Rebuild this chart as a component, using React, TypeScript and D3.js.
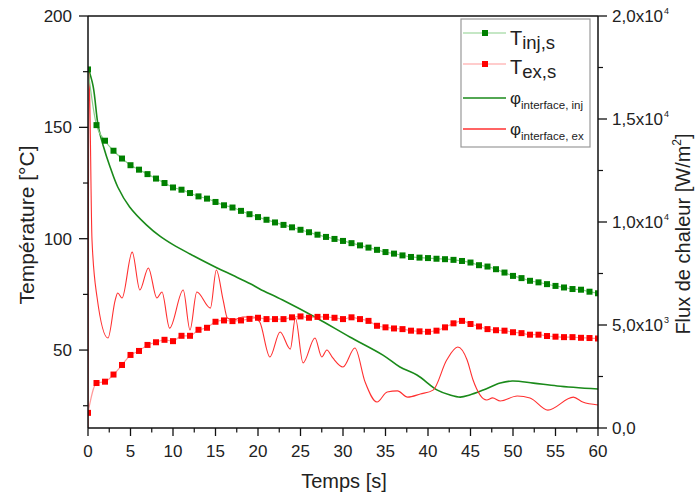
import React, { useEffect, useRef } from 'react';
import * as d3 from 'd3';

// time steps of the marker series [s]
const seconds = [
  0, 1, 2, 3, 4, 5, 6, 7, 8, 9, 10, 11, 12, 13, 14, 15, 16, 17, 18, 19, 20,
  21, 22, 23, 24, 25, 26, 27, 28, 29, 30, 31, 32, 33, 34, 35, 36, 37, 38, 39, 40,
  41, 42, 43, 44, 45, 46, 47, 48, 49, 50, 51, 52, 53, 54, 55, 56, 57, 58, 59, 60
];

// T_inj,s [°C]
const tInj = [
  176, 151, 144, 139.5, 136, 133, 131, 129, 127, 125, 123, 122, 120.5, 119, 118, 116.5, 115, 114, 112.5, 111, 109.7,
  108.5, 107.3, 106.2, 105.1, 104, 102.9, 101.8, 100.8, 99.9, 99, 98, 97, 96, 95, 94, 93.3, 92.5, 91.8, 91.5, 91.3,
  91, 90.8, 90.5, 90, 89.3, 88.1, 87.5, 86.3, 84.8, 83.3, 82.3, 81.1, 80.4, 79.6, 78.8, 78.1, 77.4, 77.1, 76.2, 75.5
];

// T_ex,s [°C]
const tEx = [
  21.8, 35.2, 35.8, 39, 43.3, 47.8, 49.6, 52.3, 53.5, 54.6, 54, 56.4, 56.4, 59.1, 60, 62.7, 63.3, 63, 63.3, 64, 64.5,
  63.9, 63.9, 63.9, 64.7, 65.1, 64.5, 64.9, 64.9, 64.5, 63.9, 64.7, 63.9, 63.1, 60.9, 60.2, 59.7, 59.4, 58.7, 58.4, 58.2,
  58.7, 60.2, 62, 63.1, 61.7, 60.6, 59.4, 58.9, 58.7, 58, 57.6, 56.9, 56.9, 56.3, 56, 55.8, 55.8, 55.5, 55.4, 55.2
];

// φ interface, inj [W/m²]
const phiInjTime = [0, 0.6, 1.2, 1.8, 2.6, 3.5, 4.9, 6.9, 8.5, 10, 12, 15.2, 17.1, 19.1, 20.2, 22.9, 26.9,
  30.8, 34.7, 36.7, 38.7, 41.1, 42.6, 43.8, 44.9, 46.5, 48.5, 49.9, 52.4, 55.2, 60];
const phiInjFlux = [17500, 16600, 14660, 13690, 12670, 11700, 10730, 9850, 9300, 8900, 8450, 7770, 7400, 7000, 6750, 6210, 5340,
  4420, 3540, 2960, 2570, 1840, 1600, 1500, 1600, 1840, 2180, 2280, 2180, 2040, 1890];

// φ interface, ex [W/m²]
const phiExTime = [0, 0.12, 0.47, 1.06, 2.35, 3.2, 3.5, 4.0, 5.2, 6.1, 7.1, 8.1, 8.7, 9.6, 11.2, 12.0, 12.8, 14.4, 15.1, 15.9,
  16.4, 17.1, 18.2, 19.4, 20.2, 21.4, 22.6, 23.8, 24.4, 25.3, 26.7, 27.5, 28.1, 28.8, 30.0, 31.4, 32.6, 34.0, 35.2, 36.4,
  37.6, 39.1, 40.6, 42.2, 43.5, 44.6, 45.3, 46.9, 47.6, 48.5, 50.5, 52.0, 54.1, 57.1, 58.2, 60];
const phiExFlux = [0, 17400, 9130, 6360, 4370, 6210, 6550, 6310, 8540, 6700, 7770, 6310, 6600, 4850, 6700, 4760, 6600, 5820, 7670, 6210,
  5340, 5240, 5390, 5390, 5150, 3450, 4660, 3830, 5340, 3160, 4370, 3450, 3790, 3400, 2960, 3880, 2230, 1260, 1750, 1800,
  1500, 1650, 1840, 3300, 3930, 3300, 2330, 1360, 1460, 1310, 1550, 1460, 870, 1500, 1260, 1120];

const xTicks = [0, 5, 10, 15, 20, 25, 30, 35, 40, 45, 50, 55, 60];
const xMinorTicks = [2.5, 7.5, 12.5, 17.5, 22.5, 27.5, 32.5, 37.5, 42.5, 47.5, 52.5, 57.5];
const tempTicks = [50, 100, 150, 200];
const tempMinorTicks = [25, 75, 125, 175];
const fluxTicks = [0, 5000, 10000, 15000, 20000];
const fluxMinorTicks = [2500, 7500, 12500, 17500];
const fluxTickLabels = [['0,0', ''], ['5,0x10', '3'], ['1,0x10', '4'], ['1,5x10', '4'], ['2,0x10', '4']];

const FONT = '"Liberation Sans", Arial, sans-serif';
const GREEN = '#008000';
const RED = '#ff0000';

const App = () => {
  const svgRef = useRef<SVGSVGElement>(null);

  useEffect(() => {
    const svg = d3.select(svgRef.current);
    svg.selectAll('*').remove();

    const width = 700;
    const height = 497;
    const left = 88, right = 598, top = 16, bottom = 428;

    svg.attr('width', width).attr('height', height).style('font-family', FONT);

    const x = d3.scaleLinear().domain([0, 60]).range([left, right]);
    const yT = d3.scaleLinear().domain([15, 200]).range([bottom, top]);
    const yF = d3.scaleLinear().domain([0, 20000]).range([bottom, top]);

    svg.append('rect').attr('width', width).attr('height', height).attr('fill', '#fff');

    // clip for data
    svg.append('defs').append('clipPath').attr('id', 'plotClip')
      .append('rect').attr('x', left).attr('y', top - 2).attr('width', right - left).attr('height', bottom - top + 2);

    const plot = svg.append('g').attr('clip-path', 'url(#plotClip)');

    // flux lines
    const phiInjLine = d3.line<number>()
      .x((d, i) => x(phiInjTime[i]))
      .y(d => yF(d))
      .curve(d3.curveCatmullRom.alpha(0.5));
    plot.append('path')
      .datum(phiInjFlux)
      .attr('d', phiInjLine)
      .attr('fill', 'none')
      .attr('stroke', '#1a8a1a')
      .attr('stroke-width', 1.6);

    const phiExLine = d3.line<number>()
      .x((d, i) => x(phiExTime[i]))
      .y(d => yF(d))
      .curve(d3.curveMonotoneX);
    plot.append('path')
      .datum(phiExFlux)
      .attr('d', phiExLine)
      .attr('fill', 'none')
      .attr('stroke', '#ff3030')
      .attr('stroke-width', 1.1);

    // marker series
    const drawMarkers = (values: number[], color: string, lineColor: string) => {
      const line = d3.line<number>()
        .x((d, i) => x(seconds[i]))
        .y(d => yT(d))
        .curve(d3.curveMonotoneX);
      plot.append('path')
        .datum(values)
        .attr('d', line)
        .attr('fill', 'none')
        .attr('stroke', lineColor)
        .attr('stroke-width', 1.2);
      plot.selectAll(null)
        .data(values)
        .enter()
        .append('rect')
        .attr('x', (d, i) => x(seconds[i]) - 3)
        .attr('y', d => yT(d) - 3)
        .attr('width', 6)
        .attr('height', 6)
        .attr('fill', color);
    };
    drawMarkers(tInj, GREEN, '#8ccf8c');
    drawMarkers(tEx, RED, '#ff9a9a');

    // frame
    const axisColor = '#111';
    svg.append('line').attr('x1', left).attr('x2', right).attr('y1', top).attr('y2', top)
      .attr('stroke', axisColor).attr('stroke-width', 1.5);
    svg.append('line').attr('x1', left).attr('x2', right).attr('y1', bottom).attr('y2', bottom)
      .attr('stroke', axisColor).attr('stroke-width', 1.5);
    svg.append('line').attr('x1', left).attr('x2', left).attr('y1', top).attr('y2', bottom)
      .attr('stroke', axisColor).attr('stroke-width', 1.5);
    svg.append('line').attr('x1', right).attr('x2', right).attr('y1', top).attr('y2', bottom)
      .attr('stroke', axisColor).attr('stroke-width', 1.5);

    // x ticks
    xTicks.forEach(t => {
      svg.append('line').attr('x1', x(t)).attr('x2', x(t)).attr('y1', bottom).attr('y2', bottom + 8)
        .attr('stroke', axisColor).attr('stroke-width', 1.3);
      svg.append('text').attr('x', x(t)).attr('y', 457).attr('text-anchor', 'middle')
        .attr('font-size', 17).attr('fill', '#222').text(t);
    });
    xMinorTicks.forEach(t => {
      svg.append('line').attr('x1', x(t)).attr('x2', x(t)).attr('y1', bottom).attr('y2', bottom + 4.5)
        .attr('stroke', axisColor).attr('stroke-width', 1.2);
    });

    // left ticks
    tempTicks.forEach(v => {
      svg.append('line').attr('x1', left - 9).attr('x2', left).attr('y1', yT(v)).attr('y2', yT(v))
        .attr('stroke', axisColor).attr('stroke-width', 1.3);
      svg.append('text').attr('x', 72).attr('y', yT(v) + 6).attr('text-anchor', 'end')
        .attr('font-size', 17).attr('fill', '#222').text(v);
    });
    tempMinorTicks.forEach(v => {
      svg.append('line').attr('x1', left - 5).attr('x2', left).attr('y1', yT(v)).attr('y2', yT(v))
        .attr('stroke', axisColor).attr('stroke-width', 1.2);
    });

    // right ticks
    fluxTicks.forEach((v, i) => {
      svg.append('line').attr('x1', right).attr('x2', right + 9).attr('y1', yF(v)).attr('y2', yF(v))
        .attr('stroke', axisColor).attr('stroke-width', 1.3);
      const txt = svg.append('text').attr('x', 612).attr('y', yF(v) + 6)
        .attr('font-size', 17).attr('fill', '#222');
      txt.append('tspan').text(fluxTickLabels[i][0]);
      if (fluxTickLabels[i][1]) {
        txt.append('tspan').attr('dy', -8).attr('dx', 1).attr('font-size', 9).text(fluxTickLabels[i][1]);
      }
    });
    fluxMinorTicks.forEach(v => {
      svg.append('line').attr('x1', right).attr('x2', right + 5).attr('y1', yF(v)).attr('y2', yF(v))
        .attr('stroke', axisColor).attr('stroke-width', 1.2);
    });

    // axis titles
    svg.append('text').attr('x', 344).attr('y', 488).attr('text-anchor', 'middle')
      .attr('font-size', 20).attr('fill', '#222').text('Temps [s]');
    svg.append('text').attr('transform', 'translate(34,225) rotate(-90)').attr('text-anchor', 'middle')
      .attr('font-size', 21).attr('fill', '#222').text('Température [°C]');
    const fluxTitle = svg.append('text').attr('transform', 'translate(690,234) rotate(-90)')
      .attr('text-anchor', 'middle').attr('font-size', 20).attr('fill', '#222');
    fluxTitle.append('tspan').text('Flux de chaleur [W/m');
    fluxTitle.append('tspan').attr('dy', -9).attr('font-size', 12).text('2');
    fluxTitle.append('tspan').attr('dy', 9).text(']');

    // legend
    const legend = svg.append('g');
    legend.append('rect').attr('x', 461).attr('y', 19).attr('width', 129).attr('height', 128)
      .attr('fill', '#fff').attr('stroke', '#999').attr('stroke-width', 1.2);

    const legendItems = [
      { main: 'T', sub: 'inj,s', color: GREEN, lineColor: '#8ccf8c', marker: true, y: 33, mainSize: 20, subSize: 18.5, textY: 45, subDy: 4 },
      { main: 'T', sub: 'ex,s', color: RED, lineColor: '#ff9a9a', marker: true, y: 64, mainSize: 20, subSize: 18.5, textY: 74, subDy: 4 },
      { main: 'φ', sub: 'interface, inj', color: GREEN, lineColor: '#1a8a1a', marker: false, y: 98, mainSize: 17, subSize: 11.5, textY: 104, subDy: 5 },
      { main: 'φ', sub: 'interface, ex', color: RED, lineColor: '#ff3030', marker: false, y: 129, mainSize: 17, subSize: 11.5, textY: 135, subDy: 5 },
    ];
    legendItems.forEach(item => {
      legend.append('line').attr('x1', 463).attr('x2', 506).attr('y1', item.y).attr('y2', item.y)
        .attr('stroke', item.lineColor).attr('stroke-width', item.marker ? 1.2 : 1.3);
      if (item.marker) {
        legend.append('rect').attr('x', 482).attr('y', item.y - 3).attr('width', 6).attr('height', 6)
          .attr('fill', item.color);
      }
      const t = legend.append('text').attr('x', 510).attr('y', item.textY).attr('fill', '#222');
      t.append('tspan').attr('font-size', item.mainSize).text(item.main);
      t.append('tspan').attr('font-size', item.subSize).attr('dy', item.subDy).text(item.sub);
    });
  }, []);

  return (
    <div style={{ position: 'absolute', left: 0, top: 0, width: 700, height: 497 }}>
      <svg ref={svgRef}></svg>
    </div>
  );
};

export default App;
